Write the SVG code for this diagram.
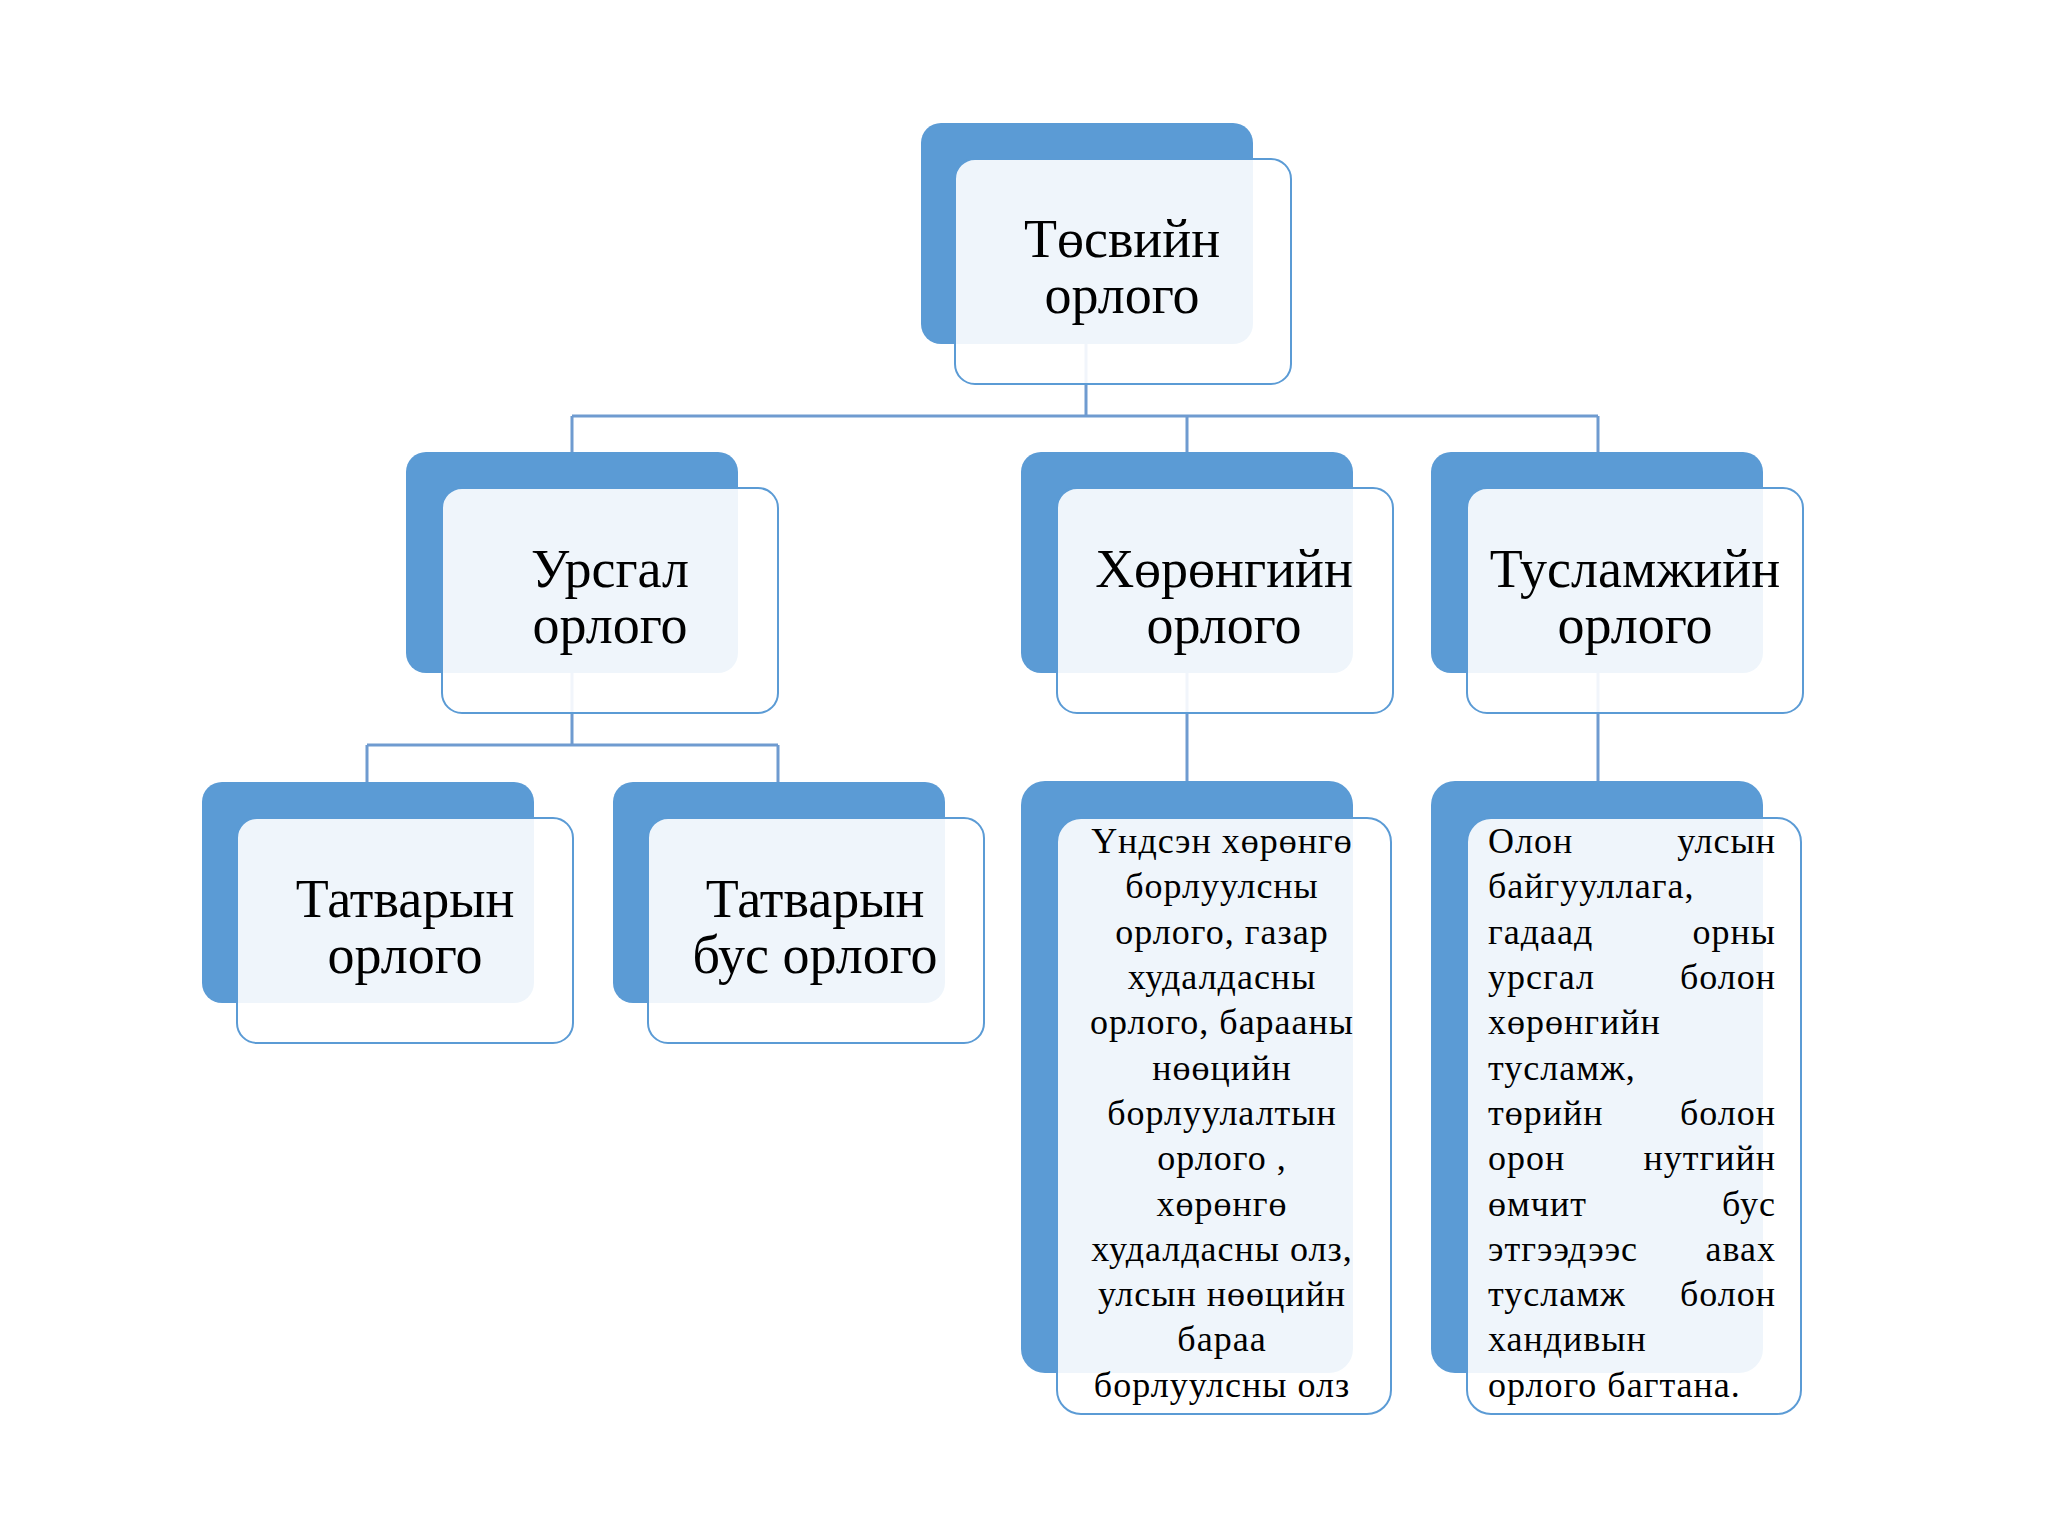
<svg xmlns="http://www.w3.org/2000/svg" width="2048" height="1536" viewBox="0 0 2048 1536">
<style>
.back{fill:#5B9BD5}
.front{fill:#FFFFFF;fill-opacity:0.9;stroke:#5B9BD5;stroke-width:2}
.conn{fill:none;stroke:#6F9BD0;stroke-width:3}
.t{font-family:"Liberation Serif","Times New Roman",serif;font-size:54px;fill:#000;text-anchor:middle}
.s{font-family:"Liberation Serif","Times New Roman",serif;font-size:36px;fill:#000;letter-spacing:1px}
.c{text-anchor:middle}
.l{text-anchor:start}
.r{text-anchor:end}
</style>
<rect width="2048" height="1536" fill="#FFFFFF"/>
<g id="connectors">
<path class="conn" d="M1086 344V416M572 416H1598M572 416V452M1187 416V452M1598 416V452"/>
<path class="conn" d="M572 673V745M367 745H778M367 745V782M778 745V782"/>
<path class="conn" d="M1187 673V781"/>
<path class="conn" d="M1598 673V781"/>
</g>
<g id="node-root">
<rect class="back" x="921" y="123" width="332" height="221" rx="20"/>
<rect class="front" x="955" y="159" width="336" height="225" rx="20"/>
<text class="t" x="1122" y="257">Төсвийн</text>
<text class="t" x="1122" y="313">орлого</text>
</g>
<g id="node-ursgal">
<rect class="back" x="406" y="452" width="332" height="221" rx="20"/>
<rect class="front" x="442" y="488" width="336" height="225" rx="20"/>
<text class="t" x="610" y="587">Урсгал</text>
<text class="t" x="610" y="643">орлого</text>
</g>
<g id="node-khurungiin">
<rect class="back" x="1021" y="452" width="332" height="221" rx="20"/>
<rect class="front" x="1057" y="488" width="336" height="225" rx="20"/>
<text class="t" x="1224" y="587">Хөрөнгийн</text>
<text class="t" x="1224" y="643">орлого</text>
</g>
<g id="node-tuslamj">
<rect class="back" x="1431" y="452" width="332" height="221" rx="20"/>
<rect class="front" x="1467" y="488" width="336" height="225" rx="20"/>
<text class="t" x="1635" y="587">Тусламжийн</text>
<text class="t" x="1635" y="643">орлого</text>
</g>
<g id="node-tatvar">
<rect class="back" x="202" y="782" width="332" height="221" rx="20"/>
<rect class="front" x="237" y="818" width="336" height="225" rx="20"/>
<text class="t" x="405" y="917">Татварын</text>
<text class="t" x="405" y="973">орлого</text>
</g>
<g id="node-tatvar-bus">
<rect class="back" x="613" y="782" width="332" height="221" rx="20"/>
<rect class="front" x="648" y="818" width="336" height="225" rx="20"/>
<text class="t" x="815" y="917">Татварын</text>
<text class="t" x="815" y="973">бус орлого</text>
</g>
<g id="node-khurungiin-detail">
<rect class="back" x="1021" y="781" width="332" height="592" rx="24"/>
<rect class="front" x="1057" y="818" width="334" height="596" rx="24"/>
<text class="s c" x="1222" y="853">Үндсэн хөрөнгө</text>
<text class="s c" x="1222" y="898">борлуулсны</text>
<text class="s c" x="1222" y="944">орлого, газар</text>
<text class="s c" x="1222" y="989">худалдасны</text>
<text class="s c" x="1222" y="1034">орлого, барааны</text>
<text class="s c" x="1222" y="1080">нөөцийн</text>
<text class="s c" x="1222" y="1125">борлуулалтын</text>
<text class="s c" x="1222" y="1170">орлого ,</text>
<text class="s c" x="1222" y="1216">хөрөнгө</text>
<text class="s c" x="1222" y="1261">худалдасны олз,</text>
<text class="s c" x="1222" y="1306">улсын нөөцийн</text>
<text class="s c" x="1222" y="1351">бараа</text>
<text class="s c" x="1222" y="1397">борлуулсны олз</text>
</g>
<g id="node-tuslamj-detail">
<rect class="back" x="1431" y="781" width="332" height="592" rx="24"/>
<rect class="front" x="1467" y="818" width="334" height="596" rx="24"/>
<text class="s l" x="1488" y="853">Олон</text><text class="s r" x="1776" y="853">улсын</text>
<text class="s l" x="1488" y="898">байгууллага,</text>
<text class="s l" x="1488" y="944">гадаад</text><text class="s r" x="1776" y="944">орны</text>
<text class="s l" x="1488" y="989">урсгал</text><text class="s r" x="1776" y="989">болон</text>
<text class="s l" x="1488" y="1034">хөрөнгийн</text>
<text class="s l" x="1488" y="1080">тусламж,</text>
<text class="s l" x="1488" y="1125">төрийн</text><text class="s r" x="1776" y="1125">болон</text>
<text class="s l" x="1488" y="1170">орон</text><text class="s r" x="1776" y="1170">нутгийн</text>
<text class="s l" x="1488" y="1216">өмчит</text><text class="s r" x="1776" y="1216">бус</text>
<text class="s l" x="1488" y="1261">этгээдээс</text><text class="s r" x="1776" y="1261">авах</text>
<text class="s l" x="1488" y="1306">тусламж</text><text class="s r" x="1776" y="1306">болон</text>
<text class="s l" x="1488" y="1351">хандивын</text>
<text class="s l" x="1488" y="1397">орлого багтана.</text>
</g>
</svg>
